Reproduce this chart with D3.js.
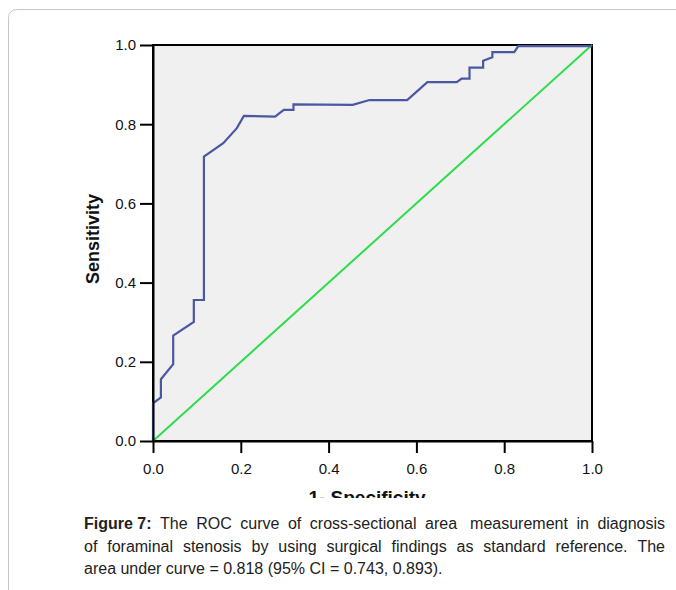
<!DOCTYPE html>
<html><head><meta charset="utf-8">
<script src="https://cdn.jsdelivr.net/npm/d3@7"></script>
<style>body{margin:0;background:#fff}svg{display:block}</style>
</head><body>
<svg id="c" width="676" height="590"></svg>
<script>
const fpr = [0,0,0.018,0.018,0.046,0.046,0.093,0.093,0.116,0.116,0.160,0.191,0.207,0.278,0.298,0.320,0.320,0.455,0.493,0.579,0.625,0.692,0.703,0.721,0.721,0.752,0.752,0.773,0.773,0.823,0.832,1.0];
const tpr = [0,0.095,0.110,0.156,0.194,0.266,0.301,0.356,0.356,0.718,0.752,0.790,0.821,0.819,0.836,0.836,0.850,0.849,0.861,0.861,0.906,0.906,0.915,0.915,0.943,0.943,0.960,0.969,0.982,0.982,0.997,0.997];
const refX = [0,1];
const refY = [0,1];
const tickVals = [0,0.2,0.4,0.6,0.8,1.0];
const xLabel = "1- Specificity";
const yLabel = "Sensitivity";
const captionLines = [
  [{t:"Figure 7:",b:true},{t:"The"},{t:"ROC"},{t:"curve"},{t:"of"},{t:"cross-sectional"},{t:"area",extra:1},{t:"measurement"},{t:"in"},{t:"diagnosis"}],
  [{t:"of"},{t:"foraminal"},{t:"stenosis"},{t:"by"},{t:"using"},{t:"surgical"},{t:"findings"},{t:"as"},{t:"standard"},{t:"reference."},{t:"The"}],
  [{t:"area"},{t:"under"},{t:"curve"},{t:"="},{t:"0.818"},{t:"(95%"},{t:"CI"},{t:"="},{t:"0.743,"},{t:"0.893)."}]
];

const svg = d3.select("#c");
const font = "'Liberation Sans', Arial, sans-serif";

svg.append("rect").attr("x",8.5).attr("y",9.5).attr("width",700).attr("height",620)
  .attr("rx",8).attr("fill","none").attr("stroke","#c6c6c6").attr("stroke-width",1);

const L=153, R=592, T=45, B=441;
const x = d3.scaleLinear().domain([0,1]).range([L,R]);
const y = d3.scaleLinear().domain([0,1]).range([B,T]);

svg.append("defs").append("clipPath").attr("id","figclip")
  .append("rect").attr("x",0).attr("y",0).attr("width",676).attr("height",498);
const g = svg.append("g").attr("clip-path","url(#figclip)");

g.append("rect").attr("x",L).attr("y",T).attr("width",R-L).attr("height",B-T).attr("fill","#f0f0f0");

g.append("rect").attr("x",L).attr("y",T).attr("width",R-L).attr("height",B-T)
  .attr("fill","none").attr("stroke","#000").attr("stroke-width",2);

const line = d3.line().x(d=>x(d[0])).y(d=>y(d[1]));
g.append("path").datum(refX.map((v,i)=>[v,refY[i]])).attr("d",line)
  .attr("fill","none").attr("stroke","#2edc4c").attr("stroke-width",2);
g.append("path").datum(fpr.map((v,i)=>[v,tpr[i]])).attr("d",line)
  .attr("fill","none").attr("stroke","#4a58a2").attr("stroke-width",2.2).attr("stroke-linejoin","miter");

const fmt = d3.format(".1f");
const ya = g.append("g").attr("transform",`translate(${L},0)`)
  .call(d3.axisLeft(y).tickValues(tickVals).tickFormat(fmt).tickSize(13).tickSizeOuter(0).tickPadding(4));
const xa = g.append("g").attr("transform",`translate(0,${B})`)
  .call(d3.axisBottom(x).tickValues(tickVals).tickFormat(fmt).tickSize(12).tickSizeOuter(0).tickPadding(10));
[ya,xa].forEach(a=>{
  a.select(".domain").attr("stroke","#000").attr("stroke-width",2);
  a.selectAll(".tick line").attr("stroke","#000").attr("stroke-width",2);
  a.selectAll(".tick text").attr("fill","#111").style("font-family",font).style("font-size","15px");
});

g.append("text").attr("x",367).attr("y",504).attr("text-anchor","middle")
  .style("font-family",font).style("font-size","19px").style("font-weight","bold").attr("fill","#111").text(xLabel);
g.append("text").attr("transform",`translate(99,239) rotate(-90)`).attr("text-anchor","middle")
  .style("font-family",font).style("font-size","18px").style("font-weight","bold").attr("fill","#111").text(yLabel);

const capL=84, capR=665, base=[529,552,574], fs=16;
captionLines.forEach((words,li)=>{
  const nodes = words.map(w=>svg.append("text").attr("y",base[li]).style("font-family",font).style("font-size",fs+"px")
      .style("font-weight",w.b?"bold":"normal").attr("fill","#222").text(w.t));
  const widths = nodes.map(n=>n.node().getComputedTextLength());
  const spaceW = fs*0.278;
  const extraTotal = words.reduce((s,w)=>s+(w.extra?spaceW:0),0);
  const total = widths.reduce((a,b)=>a+b,0);
  let gap = spaceW;
  if (li < captionLines.length-1) gap = (capR-capL-total-extraTotal)/(words.length-1);
  let cx = capL;
  nodes.forEach((n,i)=>{ n.attr("x",cx); cx += widths[i]+gap+(words[i].extra?spaceW:0); });
});
</script>
</body></html>
